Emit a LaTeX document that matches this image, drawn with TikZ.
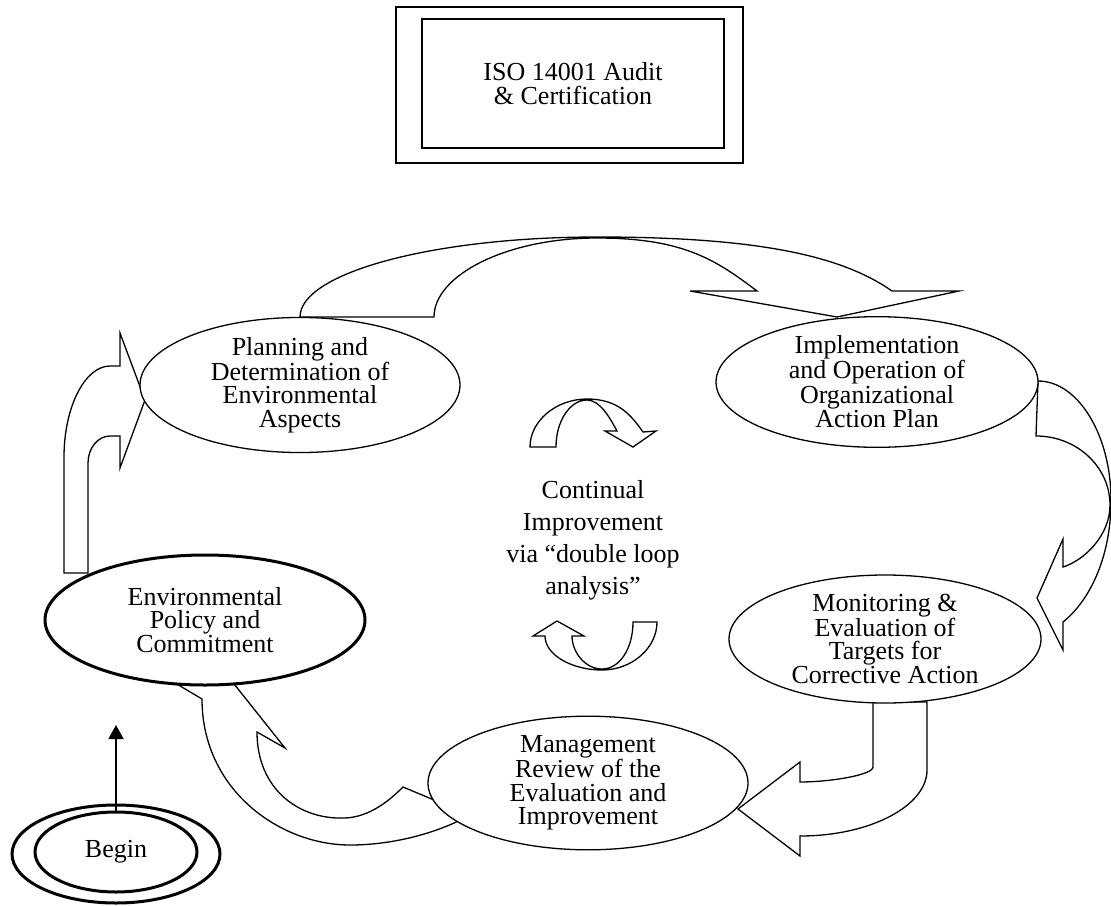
\documentclass[tikz,border=0pt]{standalone}
\usepackage{fontspec}
\setmainfont{Liberation Serif}
\usetikzlibrary{shapes.geometric,arrows.meta}
\begin{document}
\begin{tikzpicture}[x=1pt,y=-1pt,
  blockarrow/.style={draw=black, line width=1.3pt, line join=miter},
  bubble/.style={ellipse, draw=black, fill=white, line width=1.3pt, inner sep=0pt,
    align=center, font=\fontsize{26}{23.5}\selectfont},
  boldbubble/.style={bubble, line width=3pt},
  framebox/.style={rectangle, draw=black, line width=1.4pt, inner sep=0pt,
    align=center, font=\fontsize{26}{23.5}\selectfont}]
\useasboundingbox (0,0) rectangle (1111,905);

% ---------- block arrows (drawn first, the ellipses sit on top) ----------
% Planning -> Implementation
\draw[blockarrow] (300,317) -- (434,317)
  .. controls (434,275) and (507,238) .. (597,238)
  .. controls (685,238) and (717,261) .. (757,291)
  -- (690,291) -- (837,317) -- (959,291) -- (892,291)
  .. controls (842,256) and (759,237) .. (597,237)
  .. controls (433,237) and (300,273) .. (300,317) -- cycle;

% Environmental Policy -> Planning
\draw[blockarrow] (64,573) -- (64,457)
  .. controls (64,407) and (85,366) .. (110,366)
  -- (120,366) -- (120,333) -- (145,400) -- (120,468) -- (120,436) -- (110,436)
  .. controls (98,436) and (88,448) .. (88,463)
  -- (88,573) -- cycle;

% Implementation -> Monitoring
\draw[blockarrow] (1038,381) -- (1036,436)
  .. controls (1077,436) and (1110,467) .. (1110,505)
  .. controls (1110,535) and (1085,560) .. (1063,567)
  -- (1063,539) -- (1037,598) -- (1063,650) -- (1063,622)
  .. controls (1088,602) and (1111,560) .. (1111,500)
  .. controls (1111,435) and (1078,381) .. (1038,381) -- cycle;

% Monitoring -> Management
\draw[blockarrow] (873,702) -- (873,767)
  .. controls (873,775) and (830,782) .. (800,782)
  -- (800,762) -- (738,809) -- (800,856) -- (800,836)
  .. controls (870,836) and (927,806) .. (927,770)
  -- (927,702) -- cycle;

% Management -> Environmental Policy
\draw[blockarrow] (202,699)
  .. controls (202,790) and (280,845) .. (350,845)
  .. controls (395,845) and (440,832) .. (470,815)
  -- (403,787)
  .. controls (390,800) and (370,817) .. (345,818)
  .. controls (300,820) and (257,790) .. (257,732)
  -- (285,748) -- (215,660) -- (165,677) -- cycle;

% small loop arrows around the centre text
\draw[blockarrow] (530,447) -- (556,447)
  .. controls (556,421) and (570,400) .. (587,400)
  .. controls (600,400) and (610,418) .. (617,431)
  -- (605,431) -- (633,447) -- (656,431) -- (643,432)
  .. controls (631,415) and (618,399) .. (587,399)
  .. controls (556,399) and (530,421) .. (530,447) -- cycle;
\draw[blockarrow] (657,622) -- (633,622)
  .. controls (633,648) and (620,669) .. (602,669)
  .. controls (585,669) and (572,652) .. (572,636)
  -- (584,636) -- (557,621) -- (533,636) -- (545,636)
  .. controls (545,655) and (572,670) .. (602,670)
  .. controls (632,670) and (657,648) .. (657,622) -- cycle;

% ---------- certification frame ----------
\node[framebox, minimum width=347, minimum height=156] (isoframe) at (569.5,85) {};
\node[framebox, minimum width=302, minimum height=129] (iso) at (573,83.5)
  {ISO 14001 Audit\\\& Certification};

% ---------- process stages ----------
\node[bubble, minimum width=320, minimum height=134] (plan) at (300,385)
  {Planning and\\Determination of\\Environmental\\Aspects};
\node[bubble, minimum width=322, minimum height=129] (impl) at (877,382)
  {Implementation\\and Operation of\\Organizational\\Action Plan};
\node[bubble, minimum width=312, minimum height=128] (moni) at (885,639)
  {Monitoring \&\\Evaluation of\\Targets for\\Corrective Action};
\node[bubble, minimum width=320, minimum height=132] (mgmt) at (588,783)
  {Management\\Review of the\\Evaluation and\\Improvement};
\node[boldbubble, minimum width=320, minimum height=130] (policy) at (205,620)
  {Environmental\\Policy and\\Commitment};

% ---------- centre text ----------
\node[align=center, font=\fontsize{26}{32}\selectfont] (loop) at (593,540)
  {Continual\\Improvement\\via “double loop\\analysis”};

% ---------- start ----------
\node[ellipse, draw=black, line width=3pt, minimum width=208, minimum height=98,
  inner sep=0pt] (beginring) at (116,854) {};
\node[ellipse, draw=black, line width=3pt, minimum width=162, minimum height=80,
  inner sep=0pt, font=\fontsize{26}{23.5}\selectfont] (begin) at (116,852) {Begin};
\coordinate (beginTip) at (116,725);
\draw[line width=1.5pt, -{Triangle[width=15pt,length=14pt]}] (begin.north) -- (beginTip);
\end{tikzpicture}
\end{document}
